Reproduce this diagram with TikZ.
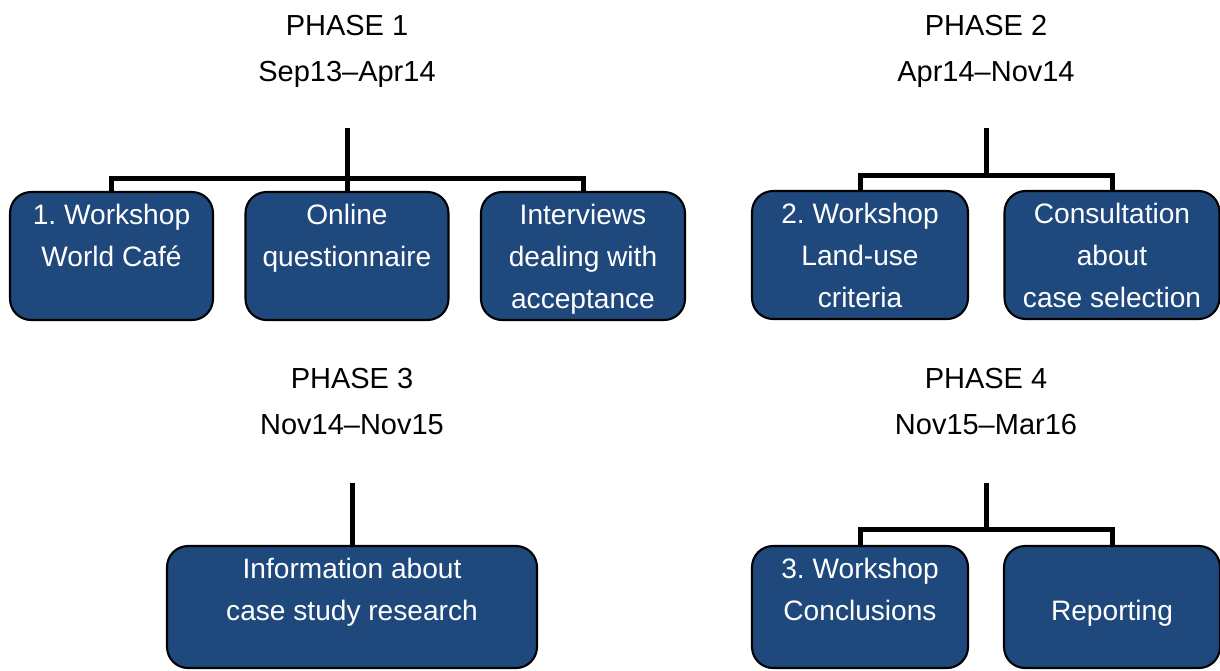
\documentclass[tikz,border=0pt]{standalone}
\usepackage{fontspec}
\setmainfont{Liberation Sans}
\usepackage{tikz}
\usetikzlibrary{positioning, calc}

\definecolor{phaseblue}{HTML}{1F497D}

\begin{document}
\frenchspacing
\begin{tikzpicture}[x=0.02cm, y=-0.02cm,
    box/.style={draw=black, line width=1.2pt, fill=phaseblue, rounded corners=0.42cm, minimum height=2.56cm, inner sep=0pt},
    boxtext/.style={text=white, align=center, inner sep=0pt, font=\fontsize{16}{23.9}\selectfont\frenchspacing},
    phase/.style={align=center, inner sep=0pt, anchor=north, font=\fontsize{16.5}{26}\selectfont},
    conn/.style={line width=2.85pt}]
    \useasboundingbox (0,0) rectangle (1220,670);
    % Phase headings
    \node[phase] (ph1) at (347,15) {PHASE 1\\Sep13–Apr14};
    \node[phase] (ph2) at (986,15) {PHASE 2\\Apr14–Nov14};
    \node[phase] (ph3) at (352,368) {PHASE 3\\Nov14–Nov15};
    \node[phase] (ph4) at (986,368) {PHASE 4\\Nov15–Mar16};
    % Boxes, phase 1
    \node[box, minimum width=4.06cm] (wcafe) at (111.5,256) {};
    \node[box, minimum width=4.06cm] (online) at (347,256) {};
    \node[box, minimum width=4.08cm] (interv) at (583,256) {};
    \node[boxtext, below=0.25cm of wcafe.north] (wcafet) {1. Workshop\\World Café};
    \node[boxtext, below=0.25cm of online.north] (onlinet) {Online\\questionnaire};
    \node[boxtext, below=0.25cm of interv.north] (intervt) {Interviews\\dealing with\\acceptance};
    % Boxes, phase 2
    \node[box, minimum width=4.32cm] (landuse) at (860,255) {};
    \node[box, minimum width=4.30cm] (consult) at (1112,255) {};
    \node[boxtext, below=0.25cm of landuse.north] (landuset) {2. Workshop\\Land-use\\criteria};
    \node[boxtext, below=0.25cm of consult.north] (consultt) {Consultation\\about\\case selection};
    % Boxes, phase 3 and 4
    \node[box, minimum width=7.4cm, minimum height=2.44cm] (info) at (352,607) {};
    \node[box, minimum width=4.32cm, minimum height=2.44cm] (concl) at (860,607) {};
    \node[box, minimum width=4.32cm, minimum height=2.44cm] (report) at (1112,607) {};
    \node[boxtext, below=0.25cm of info.north] (infot) {Information about\\case study research};
    \node[boxtext, below=0.25cm of concl.north] (conclt) {3. Workshop\\Conclusions};
    \node[boxtext, below=1.09cm of report.north] (reportt) {Reporting};
    % Trunks and bars
    \coordinate (t1) at (347,128);
    \coordinate (b1) at (347,178);
    \coordinate (t2) at (986,128);
    \coordinate (b2) at (986,175);
    \coordinate (t3) at (352,483);
    \coordinate (t4) at (986,483);
    \coordinate (b4) at (986,529);
    \draw[conn] (t1) -- (b1) -| (wcafe.north);
    \draw[conn] (b1) -- (online.north);
    \draw[conn] (b1) -| (interv.north);
    \draw[conn] (t2) -- (b2) -| (landuse.north);
    \draw[conn] (b2) -| (consult.north);
    \draw[conn] (t3) -- (info.north);
    \draw[conn] (t4) -- (b4) -| (concl.north);
    \draw[conn] (b4) -| (report.north);
\end{tikzpicture}
\end{document}
